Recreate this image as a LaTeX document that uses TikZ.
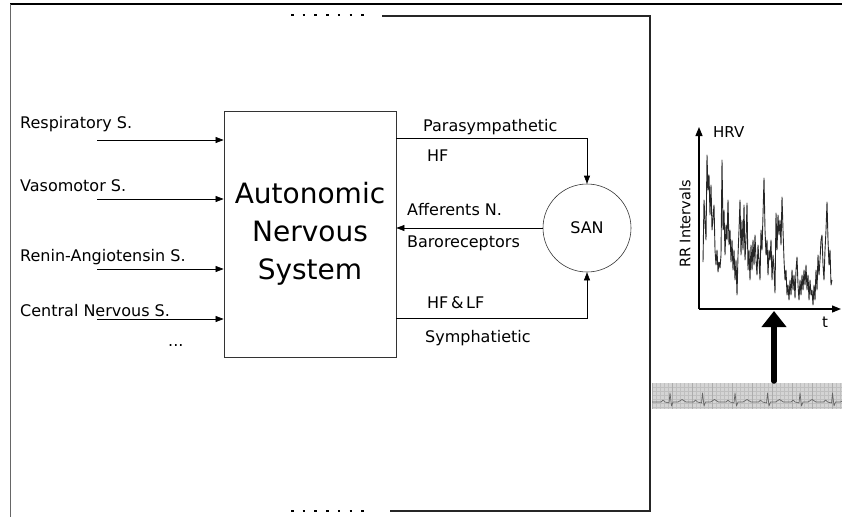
\documentclass[tikz,border=0pt]{standalone}
\usepackage{fontspec}
\setmainfont{DejaVu Sans}
\usetikzlibrary{arrows.meta}
\begin{document}
\begin{tikzpicture}[x=1pt,y=-1pt,
  lbl/.style={anchor=west,inner sep=0pt,font=\fontsize{16}{19}\selectfont},
  arr/.style={-{Triangle[length=8pt,width=6pt]},line width=0.7pt},
  frame/.style={line width=1.1pt,black!85},
  dotrow/.style={line width=2.6pt,dash pattern=on 2.6pt off 9.1pt},
]
\useasboundingbox (0,0) rectangle (842,517);
% outer frame
\draw[line width=1.4pt] (842,4) -- (10,4);
\draw[line width=0.9pt,black!60] (10,4) -- (10,517);
% inner frame
\draw[frame] (382,16) -- (650,16) -- (650,511) -- (390,511);
\draw[dotrow] (291,15) -- (366,15);
\draw[dotrow] (291,511) -- (366,511);
% main block
\node[draw,line width=0.8pt,black!80,text=black,minimum width=172pt,minimum height=246pt,inner sep=0pt,align=center,font=\fontsize{28}{38}\selectfont] (ans) at (310,234) {Autonomic\\Nervous\\System};
\node[draw,circle,line width=0.6pt,black!80,minimum size=88pt,inner sep=0pt,font=\fontsize{16}{19}\selectfont,text=black] (san) at (587,228) {SAN};
% inputs
\node[lbl] (l1) at (20,124) {Respiratory S.};
\node[lbl] (l2) at (20,186) {Vasomotor S.};
\node[lbl] (l3) at (20,257) {Renin-Angiotensin S.};
\node[lbl] (l4) at (20,311) {Central Nervous S.};
\node[lbl] (l5) at (168,345) {...};
\coordinate (i1) at (97,140);
\coordinate (i2) at (97,199);
\coordinate (i3) at (97,269);
\coordinate (i4) at (97,319);
\foreach \i in {1,...,4}{\draw[arr] (i\i) -- (ans.west |- i\i);}
% right side connectors
\coordinate (p1) at (396,138);
\coordinate (s1) at (396,318);
\draw[arr,line width=0.6pt] (ans.east |- p1) -| (san.north);
\draw[arr,line width=0.6pt] (san.west) -- (ans.east |- san.west);
\draw[arr,line width=0.6pt] (ans.east |- s1) -| (san.south);
\node[lbl] (t1) at (423,127) {Parasympathetic};
\node[lbl] (t2) at (427,156) {HF};
\node[lbl] (t3) at (407,210) {Afferents N.};
\node[lbl] (t4) at (407,243) {Baroreceptors};
\node[lbl] (t5) at (427,303) {HF\,\&\,LF};
\node[lbl] (t6) at (425,338) {Symphatietic};
% HRV plot
\coordinate (o) at (699,309);
\coordinate (ytop) at (699,127);
\coordinate (xend) at (841,309);
\draw[-{Triangle[length=9pt,width=7pt]},line width=1.2pt] (o) -- (ytop);
\draw[-{Triangle[length=9pt,width=7pt]},line width=1.2pt] (o) -- (xend);
\node[lbl,font=\fontsize{15}{18}\selectfont] (hrv) at (713,132) {HRV};
\node[lbl,font=\fontsize{15}{18}\selectfont] (tt) at (822,322) {t};
\node[font=\fontsize{14.5}{17}\selectfont,rotate=90,inner sep=0pt] (rr) at (685,224) {RR Intervals};
\draw[black!85,line width=0.9pt,line join=round] (703,262) -- (704,200) -- (706,240) -- (707,155) -- (708,190) -- (709,175) -- (710,215) -- (711,185) -- (712,230) -- (714,205) -- (715,250) -- (716,265) -- (717,250) -- (718,272) -- (719,262) -- (720,268) -- (721,255) -- (722,160) -- (723,230) -- (724,210) -- (725,255) -- (726,225) -- (727,240) -- (728,200) -- (729,245) -- (730,230) -- (731,262) -- (732,240) -- (733,270) -- (734,250) -- (735,280) -- (736,260) -- (737,295) -- (738,255) -- (739,230) -- (740,200) -- (741,255) -- (742,220) -- (743,250) -- (744,205) -- (745,260) -- (746,240) -- (747,203) -- (748,270) -- (749,250) -- (750,280) -- (751,245) -- (752,270) -- (753,240) -- (754,265) -- (755,235) -- (756,260) -- (757,275) -- (758,245) -- (759,260) -- (760,280) -- (761,230) -- (762,250) -- (763,215) -- (764,178) -- (765,230) -- (766,255) -- (767,240) -- (768,275) -- (769,250) -- (770,260) -- (771,240) -- (772,280) -- (773,255) -- (774,270) -- (775,293) -- (776,213) -- (777,250) -- (778,215) -- (779,235) -- (780,220) -- (781,245) -- (782,197) -- (783,230) -- (784,260) -- (785,280) -- (786,270) -- (787,295) -- (788,285) -- (789,300) -- (790,280) -- (791,295) -- (792,270) -- (793,290) -- (794,275) -- (795,298) -- (796,270) -- (797,257) -- (798,285) -- (799,300) -- (800,280) -- (801,295) -- (802,275) -- (803,290) -- (804,270) -- (805,285) -- (806,265) -- (807,290) -- (808,275) -- (809,300) -- (810,280) -- (811,295) -- (812,290) -- (813,305) -- (814,285) -- (815,300) -- (816,270) -- (817,290) -- (818,255) -- (819,275) -- (820,260) -- (821,240) -- (822,235) -- (823,265) -- (824,280) -- (825,250) -- (826,230) -- (827,202) -- (828,240) -- (829,265) -- (830,250) -- (831,285) -- (832,280);
% ECG strip
\fill[black!17] (652,383) rectangle (842,409);
\foreach \x in {652,656,...,842}{\draw[black!25,line width=0.4pt] (\x,383) -- (\x,409);}
\foreach \y in {387,391,...,407}{\draw[black!25,line width=0.4pt] (652,\y) -- (842,\y);}
\foreach \x in {652,672,...,842}{\draw[black!32,line width=0.6pt] (\x,383) -- (\x,409);}
\draw[black!60,line width=0.7pt,line join=round] (652,402)
  \foreach \b in {670,702.5,735,767.5,800,832.5}{
   -- ({\b-9},402) -- ({\b-7},400) -- ({\b-5},402) -- ({\b-1},403) -- (\b,393) -- ({\b+1.5},406) -- ({\b+3},402) -- ({\b+8},402) -- ({\b+12},399.5) -- ({\b+16},402)}
  -- (842,402);
% big arrow
\coordinate (ecg) at (774,381);
\coordinate (ax) at (774,311);
\draw[line width=5.5pt,line cap=round,-{Triangle[length=16pt,width=24pt]}] (ecg) -- (ax);
\end{tikzpicture}
\end{document}
